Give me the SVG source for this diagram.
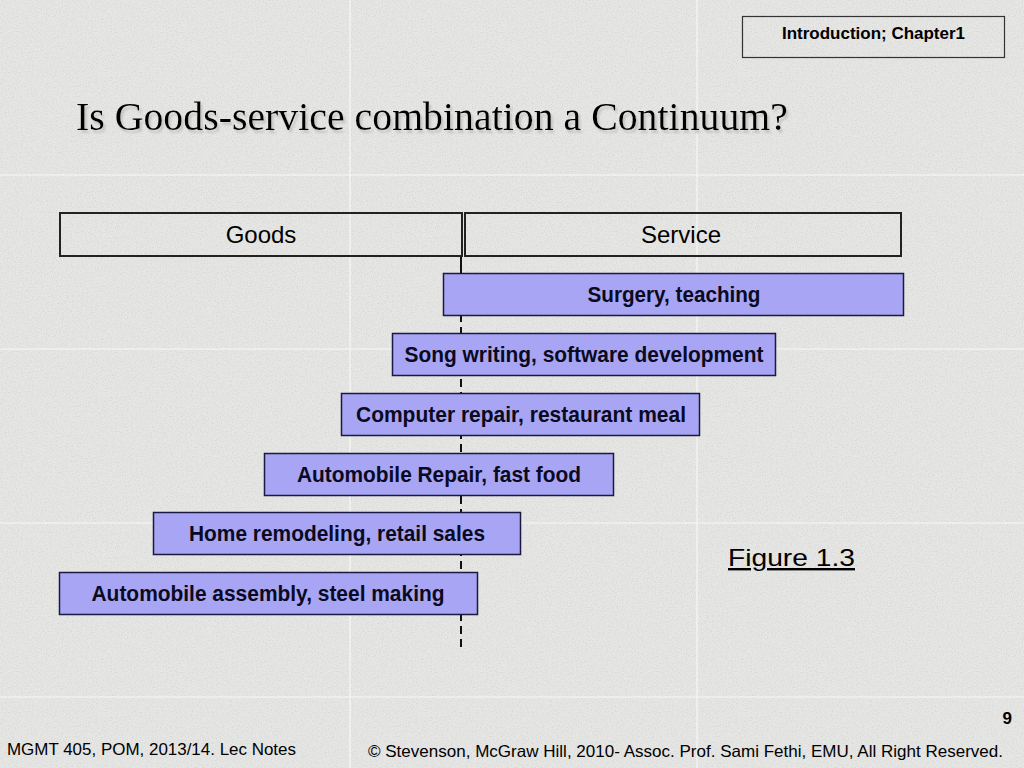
<svg xmlns="http://www.w3.org/2000/svg" width="1024" height="768" viewBox="0 0 1024 768">
<defs>
<style>
.bg{fill:#e6e6e4}
.tile{stroke:#f7f7f7;stroke-width:1.2;fill:none}
.hdr{fill:none;stroke:#222;stroke-width:2}
.box{fill:#a8a5f4;stroke:#1a1a40;stroke-width:1.5}
.lbl{font-family:"Liberation Sans",Arial,sans-serif;font-weight:bold;font-size:22px;fill:#0a0a20;text-anchor:middle}
.plain{font-family:"Liberation Sans",Arial,sans-serif;fill:#000}
.title{font-family:"Liberation Serif","Times New Roman",serif;font-size:39px}
</style>
<filter id="grain" x="0" y="0" width="100%" height="100%">
<feTurbulence type="fractalNoise" baseFrequency="0.8" numOctaves="2" seed="3" result="n"/>
<feColorMatrix in="n" type="matrix" values="0 0 0 0 0.5  0 0 0 0 0.5  0 0 0 0 0.5  0 0 0 -2 1.1" result="g"/>
<feComposite in="g" in2="SourceGraphic" operator="in"/>
</filter>
<filter id="shadow" x="-5%" y="-20%" width="110%" height="150%">
<feGaussianBlur in="SourceAlpha" stdDeviation="1"/>
<feOffset dx="2" dy="3" result="o"/>
<feColorMatrix in="o" type="matrix" values="0 0 0 0 0.5  0 0 0 0 0.5  0 0 0 0 0.5  0 0 0 0.8 0" result="s"/>
<feMerge><feMergeNode in="s"/><feMergeNode in="SourceGraphic"/></feMerge>
</filter>
</defs>

<rect class="bg" x="0" y="0" width="1024" height="768"/>
<rect x="0" y="0" width="1024" height="768" fill="#e6e6e4" filter="url(#grain)" opacity="0.45"/>
<g id="tiles">
<line class="tile" x1="350" y1="0" x2="350" y2="768"/>
<line class="tile" x1="697" y1="0" x2="697" y2="768"/>
<line class="tile" x1="0" y1="175" x2="1024" y2="175"/>
<line class="tile" x1="0" y1="349" x2="1024" y2="349"/>
<line class="tile" x1="0" y1="523" x2="1024" y2="523"/>
<line class="tile" x1="0" y1="697" x2="1024" y2="697"/>
</g>

<g id="chapter">
<rect x="742.5" y="16.5" width="262" height="41" fill="none" stroke="#333" stroke-width="1.2"/>
<text class="plain" x="782" y="39" font-size="16.5" font-weight="bold" textLength="183" lengthAdjust="spacingAndGlyphs">Introduction; Chapter1</text>
</g>

<g id="title">
<text class="title" x="76" y="130" filter="url(#shadow)" textLength="712" lengthAdjust="spacingAndGlyphs">Is Goods-service combination a Continuum?</text>
</g>

<g id="connectors">
<line x1="461" y1="256" x2="461" y2="275" stroke="#111" stroke-width="2"/>
<line x1="461" y1="275" x2="461" y2="648" stroke="#111" stroke-width="2" stroke-dasharray="8,5"/>
</g>

<g id="goods">
<rect class="hdr" x="60" y="213" width="402" height="43"/>
<text class="plain" x="261" y="243" font-size="24" text-anchor="middle">Goods</text>
</g>
<g id="service">
<rect class="hdr" x="465" y="213" width="436" height="43"/>
<text class="plain" x="681" y="243" font-size="24" text-anchor="middle">Service</text>
</g>

<g id="n1">
<rect class="box" x="443.5" y="273.5" width="460" height="42"/>
<text class="lbl" x="674" y="302" textLength="173" lengthAdjust="spacingAndGlyphs">Surgery, teaching</text>
</g>
<g id="n2">
<rect class="box" x="392.5" y="333.5" width="383" height="42"/>
<text class="lbl" x="584" y="362" textLength="359" lengthAdjust="spacingAndGlyphs">Song writing, software development</text>
</g>
<g id="n3">
<rect class="box" x="341.5" y="393.5" width="358" height="42"/>
<text class="lbl" x="521" y="422" textLength="330" lengthAdjust="spacingAndGlyphs">Computer repair, restaurant meal</text>
</g>
<g id="n4">
<rect class="box" x="264.5" y="453.5" width="349" height="42"/>
<text class="lbl" x="439" y="482" textLength="284" lengthAdjust="spacingAndGlyphs">Automobile Repair, fast food</text>
</g>
<g id="n5">
<rect class="box" x="153.5" y="512.5" width="367" height="42"/>
<text class="lbl" x="337" y="541" textLength="296" lengthAdjust="spacingAndGlyphs">Home remodeling, retail sales</text>
</g>
<g id="n6">
<rect class="box" x="59.5" y="572.5" width="418" height="42"/>
<text class="lbl" x="268" y="601" textLength="353" lengthAdjust="spacingAndGlyphs">Automobile assembly, steel making</text>
</g>

<g id="figure">
<text class="plain" x="728" y="566" font-size="24" fill="#0a0a20" textLength="127" lengthAdjust="spacingAndGlyphs" text-decoration="underline">Figure 1.3</text>
</g>

<g id="footer">
<text class="plain" x="1012" y="724" font-size="17" font-weight="bold" text-anchor="end">9</text>
<text class="plain" x="7" y="755" font-size="16.5" textLength="289" lengthAdjust="spacingAndGlyphs">MGMT 405, POM, 2013/14. Lec Notes</text>
<text class="plain" x="368" y="757" font-size="16.5" textLength="635" lengthAdjust="spacingAndGlyphs">© Stevenson, McGraw Hill, 2010- Assoc. Prof. Sami Fethi, EMU, All Right Reserved.</text>
</g>
</svg>
